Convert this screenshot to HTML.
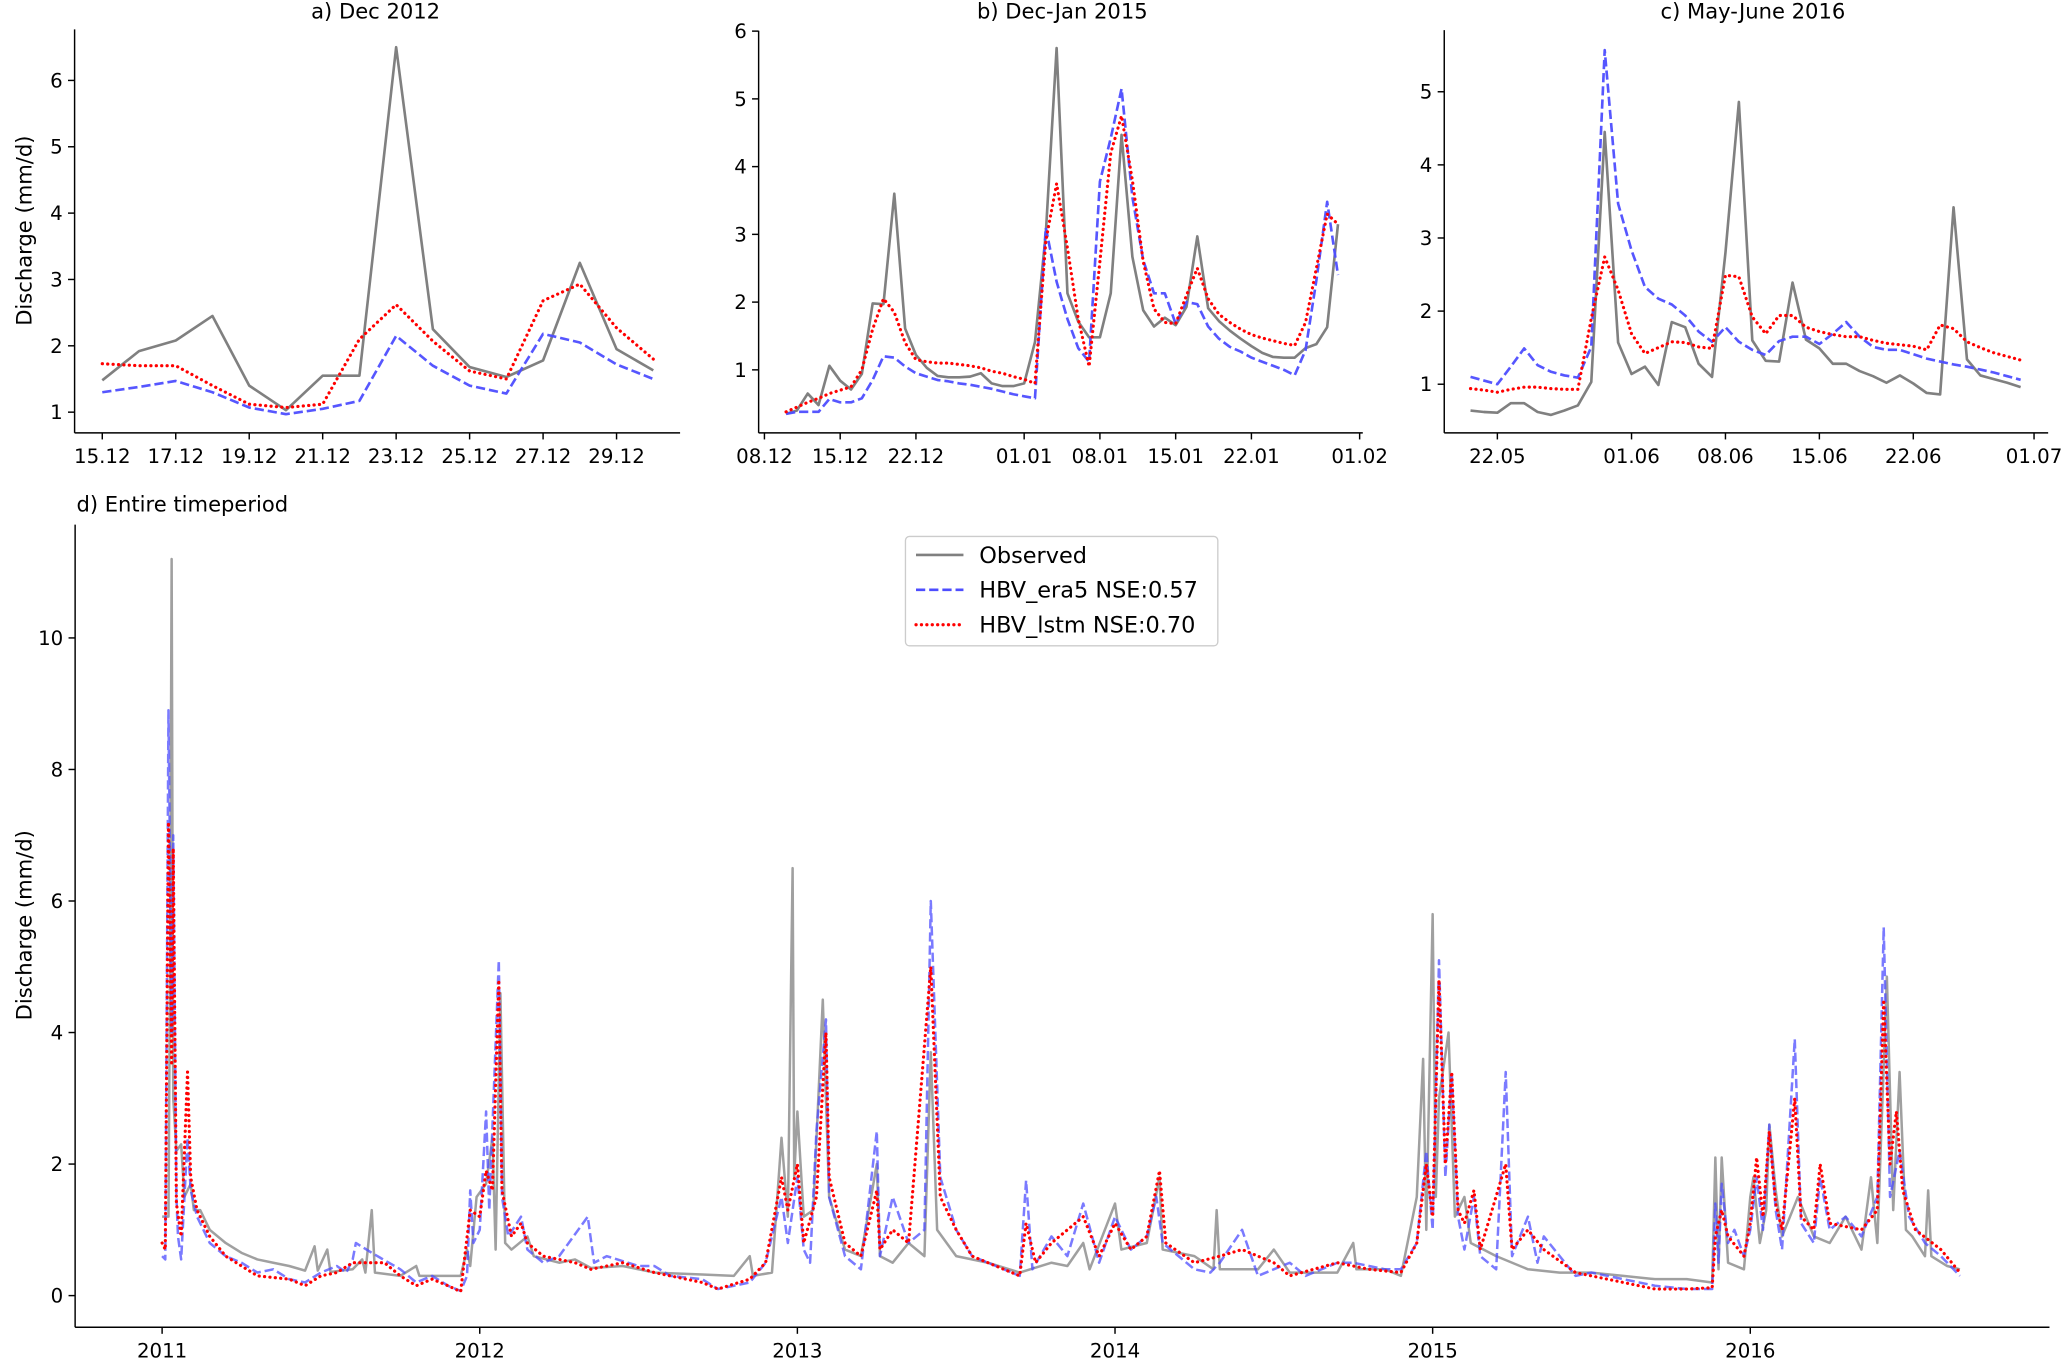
<!DOCTYPE html>
<html><head><meta charset="utf-8">
<style>
html,body{margin:0;padding:0;background:#fff;}
svg{display:block;font-family:"DejaVu Sans","Liberation Sans",sans-serif;}
</style></head>
<body>
<svg id="fig" width="2067" height="1361" viewBox="0 0 1568.3 1032.6" xmlns="http://www.w3.org/2000/svg">
<rect width="1568.3" height="1032.6" fill="#fff"/>
</svg>
<script>
// ---------- Panel a: Dec 2012 (day of December) ----------
const aDays = [15,16,17,18,19,20,21,22,23,24,25,26,27,28,29,30];
const aObs  = [1.48,1.92,2.08,2.45,1.4,1.03,1.55,1.55,6.5,2.25,1.68,1.53,1.78,3.25,1.95,1.63];
const aEra5 = [1.3,1.38,1.47,1.3,1.07,0.97,1.05,1.17,2.15,1.7,1.4,1.28,2.18,2.05,1.72,1.5];
const aLstm = [1.73,1.7,1.7,1.4,1.12,1.07,1.12,2.1,2.62,2.07,1.62,1.5,2.68,2.93,2.27,1.8];
const aTickDays = [15,17,19,21,23,25,27,29];
const aTickLabels = ["15.12","17.12","19.12","21.12","23.12","25.12","27.12","29.12"];
const aYTicks = [1,2,3,4,5,6];

// ---------- Panel b: Dec-Jan 2015 (days since 08.12) ----------
const bDays = [2,3,4,5,6,7,8,9,10,11,12,13,14,15,16,17,18,19,20,21,22,23,24,25,26,27,28,29,30,31,32,33,34,35,36,37,38,39,40,41,42,43,44,45,46,47,48,49,50,51,52,53];
const bObs  = [0.35,0.4,0.65,0.48,1.06,0.84,0.71,0.94,1.98,1.97,3.6,1.61,1.22,1.03,0.91,0.89,0.89,0.9,0.95,0.8,0.76,0.76,0.8,1.41,3.01,5.75,2.13,1.71,1.48,1.48,2.13,4.47,2.67,1.88,1.64,1.77,1.66,1.93,2.97,1.91,1.72,1.58,1.46,1.35,1.25,1.19,1.18,1.18,1.32,1.38,1.63,3.15];
const bEra5 = [0.35,0.38,0.38,0.38,0.57,0.52,0.52,0.58,0.85,1.2,1.18,1.05,0.95,0.9,0.85,0.83,0.8,0.78,0.75,0.72,0.68,0.64,0.61,0.58,3.1,2.3,1.75,1.32,1.12,3.78,4.42,5.15,3.55,2.62,2.13,2.13,1.68,2.0,1.97,1.64,1.46,1.34,1.27,1.18,1.12,1.06,1.0,0.92,1.29,2.32,3.48,2.4];
const bLstm = [0.38,0.45,0.52,0.58,0.65,0.7,0.75,1.0,1.6,2.05,1.85,1.4,1.15,1.12,1.1,1.1,1.08,1.06,1.03,0.98,0.95,0.9,0.86,0.8,2.9,3.75,2.8,1.75,1.05,2.6,4.2,4.75,3.8,2.6,1.9,1.7,1.68,2.1,2.5,2.05,1.82,1.7,1.6,1.52,1.47,1.43,1.39,1.36,1.7,2.5,3.3,3.15];
const bTickDays = [0,7,14,24,31,38,45,55];
const bTickLabels = ["08.12","15.12","22.12","01.01","08.01","15.01","22.01","01.02"];
const bYTicks = [1,2,3,4,5,6];

// ---------- Panel c: May-June 2016 (days since 22.05) ----------
const cDays = [-2,-1,0,1,2,3,4,5,6,7,8,9,10,11,12,13,14,15,16,17,18,19,20,21,22,23,24,25,26,27,28,29,30,31,32,33,34,35,36,37,38,39];
const cObs  = [0.64,0.62,0.61,0.74,0.74,0.62,0.58,0.64,0.71,1.03,4.45,1.57,1.14,1.24,0.99,1.85,1.78,1.28,1.1,2.8,4.86,1.6,1.32,1.31,2.39,1.61,1.49,1.28,1.28,1.18,1.11,1.02,1.12,1.01,0.88,0.86,3.42,1.34,1.12,1.07,1.02,0.96];
const cEra5 = [1.1,1.05,1.0,1.24,1.49,1.26,1.17,1.12,1.09,1.51,5.57,3.47,2.83,2.33,2.17,2.09,1.94,1.72,1.58,1.78,1.58,1.47,1.4,1.59,1.65,1.65,1.55,1.69,1.85,1.65,1.51,1.47,1.47,1.41,1.35,1.31,1.27,1.24,1.2,1.16,1.11,1.06];
const cLstm = [0.94,0.92,0.89,0.93,0.96,0.96,0.94,0.93,0.93,1.9,2.74,2.29,1.69,1.42,1.5,1.58,1.57,1.51,1.49,2.49,2.47,1.92,1.69,1.94,1.94,1.78,1.72,1.68,1.65,1.65,1.6,1.56,1.54,1.52,1.47,1.81,1.76,1.58,1.5,1.43,1.38,1.33];
const cTickDays = [0,10,17,24,31,40];
const cTickLabels = ["22.05","01.06","08.06","15.06","22.06","01.07"];
const cYTicks = [1,2,3,4,5];

// ---------- Panel d: entire period (decimal year) ----------
const dObsT = [2011.0,2011.02,2011.025,2011.03,2011.035,2011.045,2011.06,2011.07,2011.09,2011.1,2011.12,2011.15,2011.2,2011.25,2011.3,2011.35,2011.4,2011.45,2011.48,2011.49,2011.52,2011.53,2011.6,2011.63,2011.64,2011.66,2011.67,2011.75,2011.8,2011.81,2011.9,2011.94,2011.96,2011.97,2011.99,2012.02,2012.04,2012.05,2012.065,2012.08,2012.1,2012.15,2012.17,2012.25,2012.3,2012.35,2012.45,2012.55,2012.7,2012.8,2012.85,2012.86,2012.92,2012.95,2012.97,2012.985,2012.99,2013.0,2013.02,2013.05,2013.08,2013.1,2013.15,2013.2,2013.25,2013.26,2013.3,2013.35,2013.4,2013.42,2013.44,2013.5,2013.6,2013.7,2013.8,2013.85,2013.9,2013.92,2014.0,2014.02,2014.1,2014.14,2014.15,2014.25,2014.31,2014.32,2014.33,2014.45,2014.5,2014.55,2014.7,2014.75,2014.76,2014.85,2014.9,2014.95,2014.97,2014.98,2015.0,2015.01,2015.02,2015.05,2015.07,2015.1,2015.12,2015.2,2015.3,2015.4,2015.5,2015.6,2015.7,2015.8,2015.88,2015.89,2015.9,2015.91,2015.93,2015.98,2016.0,2016.01,2016.03,2016.05,2016.06,2016.08,2016.1,2016.15,2016.2,2016.25,2016.3,2016.35,2016.38,2016.4,2016.43,2016.45,2016.47,2016.49,2016.51,2016.55,2016.56,2016.57,2016.62,2016.66];
const dObsV = [1.2,1.2,5,11.2,3,2.2,2.3,1.5,1.7,1.3,1.3,1.0,0.8,0.65,0.55,0.5,0.45,0.38,0.75,0.38,0.7,0.36,0.4,0.55,0.35,1.3,0.35,0.3,0.45,0.3,0.3,0.3,0.7,0.45,1.5,1.7,2.4,0.7,4.6,0.8,0.7,0.9,0.6,0.5,0.55,0.42,0.45,0.35,0.32,0.3,0.6,0.3,0.35,2.4,1.2,6.5,1.8,2.8,1.2,1.3,4.5,1.5,0.7,0.6,2.0,0.6,0.5,0.8,0.6,3.7,1.0,0.6,0.5,0.35,0.5,0.45,0.8,0.4,1.4,0.7,0.8,1.8,0.7,0.6,0.4,1.3,0.4,0.4,0.7,0.35,0.35,0.8,0.4,0.4,0.3,1.5,3.6,1.0,5.8,1.5,3.0,4.0,1.2,1.5,0.8,0.6,0.4,0.35,0.35,0.3,0.25,0.25,0.2,2.1,0.4,2.1,0.5,0.4,1.5,1.8,0.8,1.3,2.6,1.6,0.9,1.5,0.9,0.8,1.2,0.7,1.8,0.8,4.85,1.3,3.4,1.0,0.9,0.6,1.6,0.6,0.45,0.4];
const dEraT = [2011.0,2011.01,2011.02,2011.03,2011.035,2011.045,2011.05,2011.06,2011.08,2011.09,2011.11,2011.15,2011.2,2011.25,2011.3,2011.35,2011.4,2011.45,2011.5,2011.55,2011.58,2011.6,2011.61,2011.66,2011.75,2011.8,2011.85,2011.9,2011.94,2011.96,2011.97,2011.98,2012.0,2012.02,2012.03,2012.06,2012.07,2012.09,2012.13,2012.15,2012.2,2012.25,2012.34,2012.36,2012.4,2012.5,2012.55,2012.6,2012.7,2012.75,2012.8,2012.85,2012.9,2012.95,2012.97,2013.0,2013.02,2013.04,2013.06,2013.09,2013.1,2013.15,2013.2,2013.25,2013.26,2013.3,2013.35,2013.4,2013.42,2013.45,2013.5,2013.55,2013.65,2013.7,2013.72,2013.74,2013.8,2013.85,2013.9,2013.95,2014.0,2014.05,2014.1,2014.13,2014.15,2014.2,2014.25,2014.3,2014.33,2014.4,2014.45,2014.55,2014.6,2014.7,2014.75,2014.85,2014.9,2014.95,2014.98,2015.0,2015.02,2015.04,2015.06,2015.08,2015.1,2015.13,2015.15,2015.2,2015.23,2015.25,2015.3,2015.33,2015.35,2015.4,2015.45,2015.5,2015.6,2015.7,2015.8,2015.88,2015.89,2015.9,2015.91,2015.93,2015.95,2015.98,2016.0,2016.02,2016.04,2016.06,2016.08,2016.1,2016.14,2016.16,2016.2,2016.22,2016.25,2016.3,2016.35,2016.4,2016.42,2016.44,2016.47,2016.5,2016.55,2016.6,2016.66];
const dEraV = [0.6,0.55,8.9,4,7,1.5,0.9,0.55,2.4,1.6,1.2,0.8,0.6,0.5,0.35,0.4,0.25,0.2,0.35,0.45,0.35,0.55,0.8,0.65,0.4,0.2,0.3,0.15,0.07,0.3,1.6,0.8,1.0,2.8,1.3,5.1,1.5,0.9,1.2,0.7,0.5,0.6,1.2,0.5,0.6,0.45,0.45,0.3,0.25,0.1,0.15,0.2,0.5,1.5,0.8,1.8,0.7,0.5,2.5,4.2,1.5,0.6,0.4,2.5,0.6,1.5,0.8,1.0,6.0,1.8,1.0,0.6,0.4,0.3,1.75,0.4,0.9,0.6,1.4,0.5,1.2,0.7,0.9,1.5,0.8,0.6,0.4,0.35,0.5,1.0,0.3,0.5,0.3,0.5,0.5,0.4,0.4,0.8,2.2,1.0,5.1,1.8,3.4,1.2,0.7,1.5,0.6,0.4,3.4,0.6,1.2,0.5,0.9,0.6,0.3,0.35,0.25,0.15,0.1,0.1,1.4,0.5,1.7,0.8,1.0,0.6,1.0,1.8,1.0,2.6,1.3,0.7,3.9,1.1,0.8,1.8,1.0,1.2,0.9,1.5,5.6,1.5,2.2,1.2,0.8,0.6,0.3];
const dLstmT = [2011.0,2011.01,2011.02,2011.03,2011.035,2011.045,2011.06,2011.08,2011.09,2011.11,2011.15,2011.2,2011.25,2011.3,2011.4,2011.45,2011.5,2011.55,2011.6,2011.7,2011.75,2011.8,2011.85,2011.9,2011.94,2011.97,2012.0,2012.02,2012.04,2012.06,2012.07,2012.1,2012.13,2012.15,2012.2,2012.3,2012.35,2012.45,2012.55,2012.7,2012.75,2012.85,2012.9,2012.95,2012.97,2013.0,2013.02,2013.06,2013.09,2013.1,2013.15,2013.2,2013.25,2013.26,2013.3,2013.35,2013.42,2013.45,2013.5,2013.55,2013.7,2013.72,2013.75,2013.8,2013.9,2013.95,2014.0,2014.05,2014.1,2014.14,2014.16,2014.25,2014.33,2014.4,2014.5,2014.55,2014.7,2014.8,2014.9,2014.95,2014.98,2015.0,2015.02,2015.04,2015.06,2015.08,2015.1,2015.13,2015.15,2015.23,2015.25,2015.3,2015.35,2015.45,2015.6,2015.7,2015.8,2015.88,2015.89,2015.91,2015.93,2015.98,2016.0,2016.02,2016.04,2016.06,2016.08,2016.1,2016.14,2016.16,2016.2,2016.22,2016.25,2016.35,2016.4,2016.42,2016.44,2016.46,2016.48,2016.52,2016.6,2016.66];
const dLstmV = [0.8,0.7,7.2,3.5,6.8,1.4,0.9,3.4,1.8,1.3,0.9,0.6,0.45,0.3,0.25,0.15,0.3,0.35,0.5,0.5,0.3,0.15,0.25,0.15,0.06,1.3,1.2,1.9,1.6,4.8,1.6,0.9,1.1,0.8,0.6,0.5,0.4,0.5,0.35,0.2,0.1,0.25,0.5,1.8,1.3,2.0,0.8,1.5,4.0,1.8,0.8,0.6,1.6,0.7,1.0,0.8,5.0,1.5,1.0,0.6,0.3,1.1,0.5,0.8,1.2,0.6,1.1,0.7,0.9,1.9,0.8,0.5,0.6,0.7,0.5,0.3,0.5,0.4,0.35,0.8,2.0,1.2,4.8,2.0,3.4,1.3,1.1,1.6,0.7,2.0,0.7,1.0,0.7,0.35,0.2,0.1,0.1,0.12,0.9,1.3,0.9,0.6,1.1,2.1,1.2,2.5,1.4,1.0,3.0,1.2,1.0,2.0,1.1,1.0,1.3,4.5,2.0,2.8,1.6,1.0,0.7,0.35];
const dTickYears = [2011,2012,2013,2014,2015,2016];
const dTickLabels = ["2011","2012","2013","2014","2015","2016"];
const dYTicks = [0,2,4,6,8,10];

const NS = "http://www.w3.org/2000/svg";
const fig = document.getElementById('fig');
function mk(tag, attrs, parent){
  const e = document.createElementNS(NS, tag);
  for (const k in attrs) e.setAttribute(k, attrs[k]);
  (parent||fig).appendChild(e);
  return e;
}
function linScale(d0,d1,r0,r1){ return v => r0 + (v-d0)*(r1-r0)/(d1-d0); }

const STY = {
  obs:  {stroke:'#808080', dash:null, w:2.0, op:1},
  era5: {stroke:'#4d4dff', dash:'7 3', w:2.0, op:0.95},
  lstm: {stroke:'#ff0000', dash:'0.1 4', w:2.4, op:1}
};

function drawPanel(p){
  const g = mk('g', {});
  
  
  const X = linScale(p.xd[0], p.xd[1], p.xr[0], p.xr[1]);
  const Y = linScale(p.yd[0], p.yd[1], p.yr[0], p.yr[1]);
  p.series.forEach(s => {
    let d = '';
    s.x.forEach((xv,i) => { d += (i?'L':'M') + X(xv).toFixed(2) + ',' + Y(s.y[i]).toFixed(2); });
    const st = STY[s.kind];
    const w = s.kind==='lstm' ? st.w : (p.lw||st.w);
    const path = mk('path', {d:d, fill:'none', stroke:st.stroke, 'stroke-width':w, 'stroke-opacity':s.op!=null?s.op:st.op, 'stroke-linejoin':'round'}, g);
    if (st.dash) path.setAttribute('stroke-dasharray', st.dash);
    if (s.kind==='lstm') path.setAttribute('stroke-linecap','round');
    
    
  });
  const L = p.box[0], R = p.box[1], T = p.box[2], B = p.box[3];
  const ly = mk('line', {x1:L, y1:T, x2:L, y2:B, stroke:'#000', 'stroke-width':1.1}, g);
  
  
  const lx = mk('line', {x1:L, y1:B, x2:R, y2:B, stroke:'#000', 'stroke-width':1.1}, g);
  
  
  p.yt.forEach(v => {
    const y = Y(v);
    mk('line', {x1:L-5, y1:y, x2:L, y2:y, stroke:'#000', 'stroke-width':1.1}, g);
    const t = mk('text', {x:L-9, y:y+5.3, 'text-anchor':'end', 'font-size':15, fill:'#000'}, g);
    t.textContent = String(v);
    
    
  });
  p.xt.forEach((v,i) => {
    const x = X(v);
    mk('line', {x1:x, y1:B, x2:x, y2:B+5, stroke:'#000', 'stroke-width':1.1}, g);
    const t = mk('text', {x:x, y:B+23, 'text-anchor':'middle', 'font-size':15, fill:'#000'}, g);
    t.textContent = p.xl[i];
    
    
  });
  const tt = mk('text', {x:p.title[1], y:p.title[2], 'text-anchor':p.title[3], 'font-size':16, fill:'#000'}, g);
  tt.textContent = p.title[0];
  
  
}

drawPanel({name:'panel-a', xd:[15,29], xr:[77.6,467.8], yd:[1,6], yr:[312.7,61.0],
  box:[56.6,516,22.3,328.4], yt:aYTicks, xt:aTickDays, xl:aTickLabels,
  title:['a) Dec 2012',285,14,'middle'],
  series:[{kind:'obs',name:'panel-a-observed',x:aDays,y:aObs},{kind:'era5',name:'panel-a-hbv-era5',x:aDays,y:aEra5},{kind:'lstm',name:'panel-a-hbv-lstm',x:aDays,y:aLstm}]});
drawPanel({name:'panel-b', xd:[0,55], xr:[580,1031.6], yd:[1,6], yr:[280.6,23.6],
  box:[575.6,1034,23.3,328.4], yt:bYTicks, xt:bTickDays, xl:bTickLabels,
  title:['b) Dec-Jan 2015',806,14,'middle'],
  series:[{kind:'obs',name:'panel-b-observed',x:bDays,y:bObs},{kind:'era5',name:'panel-b-hbv-era5',x:bDays,y:bEra5},{kind:'lstm',name:'panel-b-hbv-lstm',x:bDays,y:bLstm}]});
drawPanel({name:'panel-c', xd:[0,40], xr:[1136.1,1543.3], yd:[1,5], yr:[291.5,69.6],
  box:[1095.8,1554,22.8,328.4], yt:cYTicks, xt:cTickDays, xl:cTickLabels,
  title:['c) May-June 2016',1330,14,'middle'],
  series:[{kind:'obs',name:'panel-c-observed',x:cDays,y:cObs},{kind:'era5',name:'panel-c-hbv-era5',x:cDays,y:cEra5},{kind:'lstm',name:'panel-c-hbv-lstm',x:cDays,y:cLstm}]});
drawPanel({name:'panel-d', xd:[2011,2016], xr:[123,1328], yd:[0,10], yr:[983,484], lw:1.9,
  box:[57,1555,398,1007], yt:dYTicks, xt:dTickYears, xl:dTickLabels,
  title:['d) Entire timeperiod',58,388,'start'],
  series:[{kind:'obs',name:'panel-d-observed',x:dObsT,y:dObsV,op:0.75},{kind:'era5',name:'panel-d-hbv-era5',x:dEraT,y:dEraV,op:0.75},{kind:'lstm',name:'panel-d-hbv-lstm',x:dLstmT,y:dLstmV}]});

[['y-axis-title-top',175],['y-axis-title-bottom',702]].forEach(a => {
  const t = mk('text', {x:0, y:0, transform:'translate(24,'+a[1]+') rotate(-90)', 'text-anchor':'middle', 'font-size':16, fill:'#000'});
  t.textContent = 'Discharge (mm/d)';
  
  
});

const lg = mk('g', {});


mk('rect', {x:687, y:407, width:237, height:83, rx:3, fill:'#fff', 'fill-opacity':0.8, stroke:'#ccc', 'stroke-width':1}, lg);
const legItems = [['obs','Observed',421],['era5','HBV_era5 NSE:0.57',447.5],['lstm','HBV_lstm NSE:0.70',474]];
legItems.forEach(it => {
  const st = STY[it[0]];
  const ln = mk('line', {x1:695, y1:it[2], x2:731, y2:it[2], stroke:st.stroke, 'stroke-width':st.w}, lg);
  if (st.dash) ln.setAttribute('stroke-dasharray', st.dash);
  if (it[0]==='lstm') ln.setAttribute('stroke-linecap','round');
  
  
  const t = mk('text', {x:743, y:it[2]+6, 'font-size':17, fill:'#000'}, lg);
  t.textContent = it[1];
  
  
});
</script>
</body></html>
